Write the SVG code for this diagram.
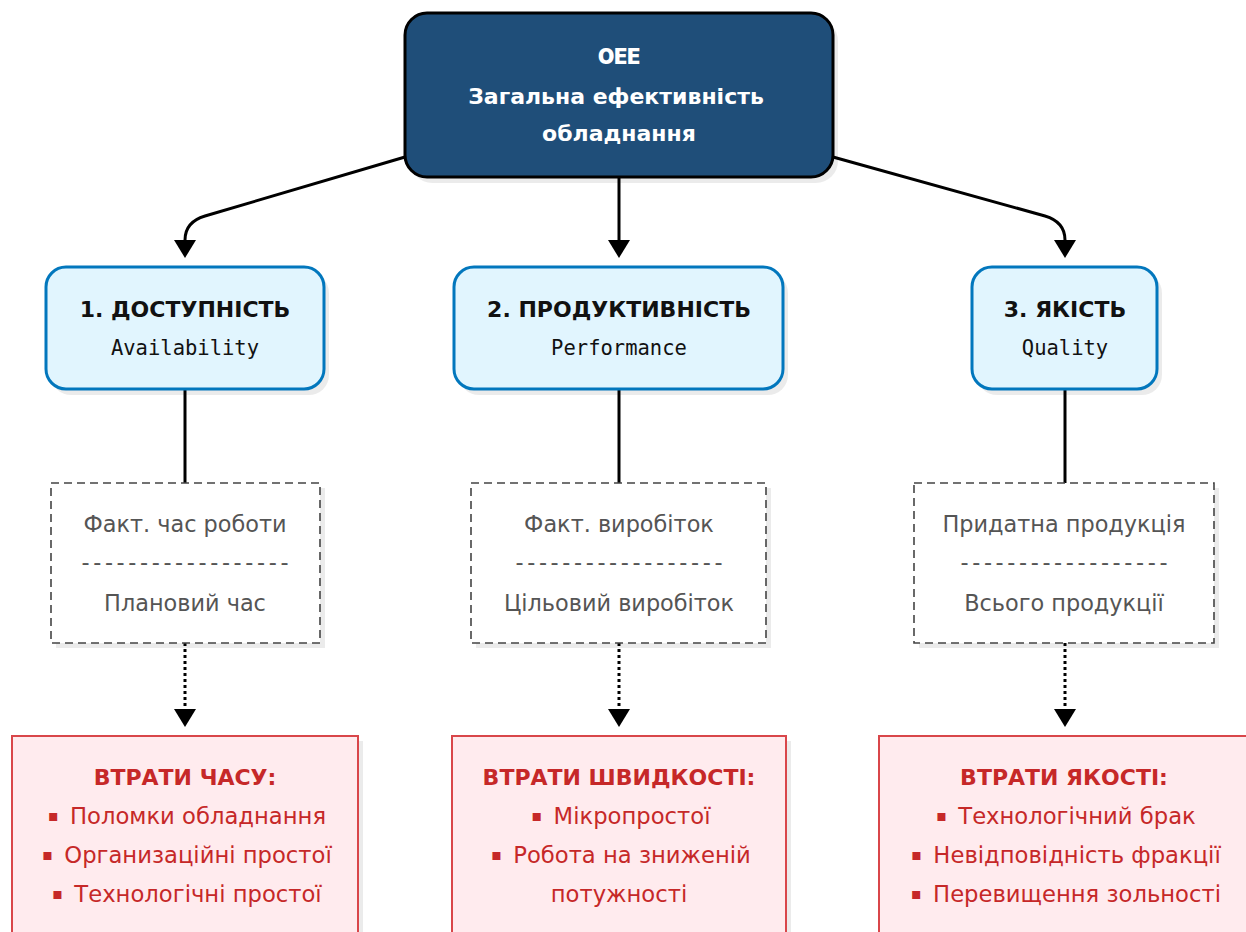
<svg xmlns="http://www.w3.org/2000/svg" width="1246" height="932" viewBox="0 0 1246 932">
<defs>
<marker id="arr" viewBox="0 0 18 22" refX="0" refY="11" markerWidth="18" markerHeight="22" markerUnits="userSpaceOnUse" orient="auto">
<path d="M0,0 L18,11 L0,22 z" fill="#000"/>
</marker>
</defs>
<style>
.shadow{fill:#000;opacity:0.08}
.top{fill:#1f4e79;stroke:#000;stroke-width:3}
.blue{fill:#e1f5fe;stroke:#0277bd;stroke-width:3}
.dash{fill:#fff;stroke:#444;stroke-width:1.6;stroke-dasharray:8 5}
.red{fill:#ffebee;stroke:#d9464a;stroke-width:2}
.conn{fill:none;stroke:#000;stroke-width:3}
.dot{fill:none;stroke:#000;stroke-width:3;stroke-dasharray:3 3}
text{text-anchor:middle}
.tw{font-family:"DejaVu Sans",sans-serif;font-weight:bold;font-size:22px;fill:#fff}
.oee{font-family:Inter,"DejaVu Sans",sans-serif;font-weight:900;font-size:21px;fill:#fff}
.bh{font-family:"DejaVu Sans",sans-serif;font-weight:bold;font-size:22px;fill:#111}
.bm{font-family:"DejaVu Sans Mono","Liberation Mono",monospace;font-size:20.5px;fill:#111}
.g{font-family:"DejaVu Sans",sans-serif;font-size:22.4px;fill:#555}
.rt{font-family:"DejaVu Sans",sans-serif;font-weight:bold;font-size:22px;fill:#c62828}
.rl{font-family:"DejaVu Sans",sans-serif;font-size:22.7px;fill:#c62828}
.b{font-size:16px}
</style>
<g id="connectors">
<path class="conn" d="M405,157 L205,216 Q185,222 185,240" marker-end="url(#arr)"/>
<path class="conn" d="M619,177 L619,240" marker-end="url(#arr)"/>
<path class="conn" d="M833,157 L1045,216 Q1065,222 1065,240" marker-end="url(#arr)"/>
<path class="conn" d="M185,389 L185,483"/>
<path class="conn" d="M619,389 L619,483"/>
<path class="conn" d="M1065,389 L1065,483"/>
<path class="dot" d="M185,643 L185,709" marker-end="url(#arr)"/>
<path class="dot" d="M619,643 L619,709" marker-end="url(#arr)"/>
<path class="dot" d="M1065,643 L1065,709" marker-end="url(#arr)"/>
</g>
<g id="oee">
<rect class="shadow" x="410" y="19" width="428" height="164" rx="22"/>
<rect class="top" x="405" y="13" width="428" height="164" rx="22"/>
<text class="oee" x="619" y="64">OEE</text>
<text class="tw" x="616" y="104">Загальна ефективність</text>
<text class="tw" x="619" y="141">обладнання</text>
</g>
<g id="availability">
<rect class="shadow" x="51" y="273" width="278" height="122" rx="20"/>
<rect class="blue" x="46" y="267" width="278" height="122" rx="20"/>
<text class="bh" x="185" y="317">1. ДОСТУПНІСТЬ</text>
<text class="bm" x="185" y="355">Availability</text>
</g>
<g id="performance">
<rect class="shadow" x="459" y="273" width="329" height="122" rx="20"/>
<rect class="blue" x="454" y="267" width="329" height="122" rx="20"/>
<text class="bh" x="619" y="317">2. ПРОДУКТИВНІСТЬ</text>
<text class="bm" x="619" y="355">Performance</text>
</g>
<g id="quality">
<rect class="shadow" x="977" y="273" width="185" height="122" rx="20"/>
<rect class="blue" x="972" y="267" width="185" height="122" rx="20"/>
<text class="bh" x="1065" y="317">3. ЯКІСТЬ</text>
<text class="bm" x="1065" y="355">Quality</text>
</g>
<g id="formula-a">
<rect class="shadow" x="56" y="488" width="269" height="160"/>
<rect class="dash" x="51" y="483" width="269" height="160"/>
<text class="g" x="185" y="532">Факт. час роботи</text>
<text class="g" x="185" y="570" textLength="207" lengthAdjust="spacing">------------------</text>
<text class="g" x="185" y="611">Плановий час</text>
</g>
<g id="formula-p">
<rect class="shadow" x="476" y="488" width="295" height="160"/>
<rect class="dash" x="471" y="483" width="295" height="160"/>
<text class="g" x="619" y="532">Факт. виробіток</text>
<text class="g" x="619" y="570" textLength="207" lengthAdjust="spacing">------------------</text>
<text class="g" x="619" y="611">Цільовий виробіток</text>
</g>
<g id="formula-q">
<rect class="shadow" x="919" y="488" width="300" height="160"/>
<rect class="dash" x="914" y="483" width="300" height="160"/>
<text class="g" x="1064" y="532">Придатна продукція</text>
<text class="g" x="1064" y="570" textLength="207" lengthAdjust="spacing">------------------</text>
<text class="g" x="1064" y="611">Всього продукції</text>
</g>
<g id="loss-a">
<rect class="shadow" x="17" y="741" width="346" height="210"/>
<rect class="red" x="12" y="736" width="346" height="210"/>
<text class="rt" x="185" y="785">ВТРАТИ ЧАСУ:</text>
<text class="rl" x="187" y="821"><tspan class="b">▪</tspan><tspan dx="4" dy="3"> Поломки обладнання</tspan></text>
<text class="rl" x="187" y="860"><tspan class="b">▪</tspan><tspan dx="4" dy="3"> Организаційні простої</tspan></text>
<text class="rl" x="187" y="899"><tspan class="b">▪</tspan><tspan dx="4" dy="3"> Технологічні простої</tspan></text>
</g>
<g id="loss-p">
<rect class="shadow" x="457" y="741" width="334" height="210"/>
<rect class="red" x="452" y="736" width="334" height="210"/>
<text class="rt" x="619" y="785">ВТРАТИ ШВИДКОСТІ:</text>
<text class="rl" x="621" y="821"><tspan class="b">▪</tspan><tspan dx="4" dy="3"> Мікропростої</tspan></text>
<text class="rl" x="621" y="860"><tspan class="b">▪</tspan><tspan dx="4" dy="3"> Робота на зниженій</tspan></text>
<text class="rl" x="619" y="902">потужності</text>
</g>
<g id="loss-q">
<rect class="shadow" x="884" y="741" width="372" height="210"/>
<rect class="red" x="879" y="736" width="372" height="210"/>
<text class="rt" x="1064" y="785">ВТРАТИ ЯКОСТІ:</text>
<text class="rl" x="1066" y="821"><tspan class="b">▪</tspan><tspan dx="4" dy="3"> Технологічний брак</tspan></text>
<text class="rl" x="1066" y="860"><tspan class="b">▪</tspan><tspan dx="4" dy="3"> Невідповідність фракції</tspan></text>
<text class="rl" x="1066" y="899"><tspan class="b">▪</tspan><tspan dx="4" dy="3"> Перевищення зольності</tspan></text>
</g>
</svg>
